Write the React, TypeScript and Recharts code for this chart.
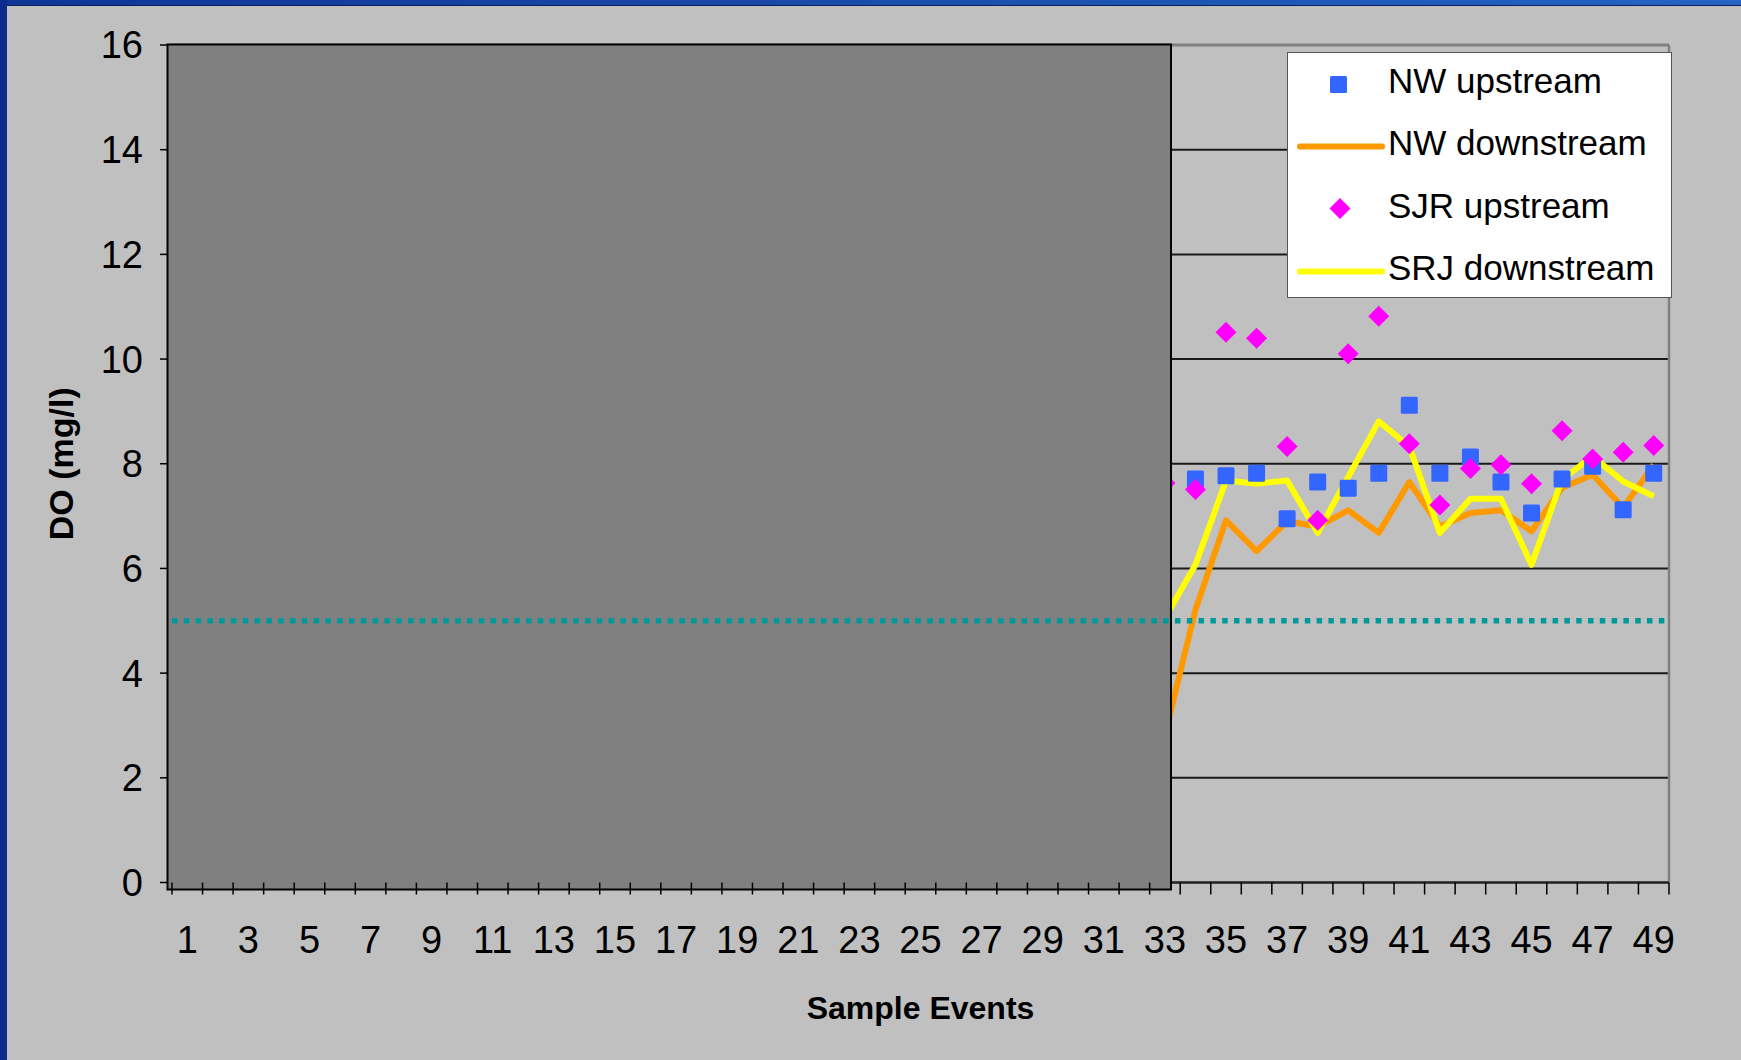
import React from 'react';
import {
  LineChart,
  Line,
  XAxis,
  YAxis,
  CartesianGrid,
  ReferenceArea,
  ReferenceLine,
  Legend,
} from 'recharts';

// sample event numbers along the x axis
const EVENTS = [
  1, 2, 3, 4, 5, 6, 7, 8, 9, 10, 11, 12, 13, 14, 15, 16, 17, 18, 19, 20,
  21, 22, 23, 24, 25, 26, 27, 28, 29, 30, 31, 32, 33, 34, 35, 36, 37, 38, 39, 40,
  41, 42, 43, 44, 45, 46, 47, 48, 49,
];
const DO_TICKS = [0, 2, 4, 6, 8, 10, 12, 14, 16];

// readings for events 33-49 (earlier events sit under the shaded block)
const READ_EVENTS = [33, 34, 35, 36, 37, 38, 39, 40, 41, 42, 43, 44, 45, 46, 47, 48, 49];
const NW_UPSTREAM = [null, 7.71, 7.77, 7.82, 6.95, 7.65, 7.53, 7.82, 9.12, 7.82, 8.13, 7.65, 7.06, 7.71, 7.95, 7.12, 7.82];
const NW_DOWNSTREAM = [2.82, 5.21, 6.92, 6.33, 6.9, 6.8, 7.11, 6.68, 7.65, 6.8, 7.06, 7.11, 6.71, 7.54, 7.79, 7.16, 7.98];
const SJR_UPSTREAM = [7.63, 7.51, 10.51, 10.4, 8.33, 6.92, 10.1, 10.82, 8.38, 7.21, 7.91, 7.98, 7.62, 8.63, 8.09, 8.22, 8.35];
const SRJ_DOWNSTREAM = [5.05, 6.07, 7.68, 7.62, 7.68, 6.68, 7.75, 8.81, 8.33, 6.68, 7.33, 7.33, 6.07, 7.7, 8.14, 7.66, 7.38];

const DO_STANDARD = 5; // mg/l
const SHADED_TO_EVENT = 33.2;

const rows = EVENTS.map((event) => {
  const i = READ_EVENTS.indexOf(event);
  return {
    event,
    nwUp: i < 0 ? null : NW_UPSTREAM[i],
    nwDown: i < 0 ? null : NW_DOWNSTREAM[i],
    sjrUp: i < 0 ? null : SJR_UPSTREAM[i],
    srjDown: i < 0 ? null : SRJ_DOWNSTREAM[i],
  };
});

const WIDTH = 1741;
const HEIGHT = 1060;
const PLOT_LEFT = 172;
const PLOT_TOP = 45;
const PLOT_RIGHT = 1669;
const PLOT_BOTTOM = 882.5;
const BAND = (PLOT_RIGHT - PLOT_LEFT) / EVENTS.length;
const FONT = '"Liberation Sans", Arial, sans-serif';

const BLUE = '#3366ff';
const ORANGE = '#ff9900';
const MAGENTA = '#ff00ff';
const YELLOW = '#ffff00';

const Square = (props: any) => {
  const { cx, cy, index } = props;
  if (cy == null || cx == null) return <g key={`sq-${index}`} />;
  return <rect key={`sq-${index}`} x={cx - 8.5} y={cy - 8.5} width={17} height={17} rx={1.5} fill={BLUE} />;
};

const Diamond = (props: any) => {
  const { cx, cy, index } = props;
  if (cy == null || cx == null) return <g key={`dm-${index}`} />;
  const r = 10.5;
  return (
    <polygon
      key={`dm-${index}`}
      points={`${cx},${cy - r} ${cx + r},${cy} ${cx},${cy + r} ${cx - r},${cy}`}
      fill={MAGENTA}
    />
  );
};

// tick marks sit between events, labels on every other event
const EventTick = (props: any) => {
  const { x, payload } = props;
  const v = payload.value as number;
  const edge = x - BAND / 2;
  return (
    <g>
      <line x1={edge} x2={edge} y1={PLOT_BOTTOM} y2={PLOT_BOTTOM + 12} stroke="#000" strokeWidth={1.5} />
      {v === EVENTS[EVENTS.length - 1] && (
        <line x1={x + BAND / 2} x2={x + BAND / 2} y1={PLOT_BOTTOM} y2={PLOT_BOTTOM + 12} stroke="#000" strokeWidth={1.5} />
      )}
      {v % 2 === 1 && (
        <text x={x} y={PLOT_BOTTOM + 70} textAnchor="middle" fontSize={38} fontFamily={FONT} fill="#000">
          {v}
        </text>
      )}
    </g>
  );
};

const legendItems = [
  { name: 'NW upstream', kind: 'square', color: BLUE },
  { name: 'NW downstream', kind: 'line', color: ORANGE },
  { name: 'SJR upstream', kind: 'diamond', color: MAGENTA },
  { name: 'SRJ downstream', kind: 'line', color: YELLOW },
];

const LegendBox = () => (
  <div
    style={{
      width: 385,
      height: 246,
      boxSizing: 'border-box',
      background: '#fff',
      border: '1.5px solid #555',
      fontFamily: FONT,
      overflow: 'hidden',
    }}
  >
    <div style={{ marginTop: -1.5 }}>
      {legendItems.map((item) => (
        <div key={item.name} style={{ height: 62.3, display: 'flex', alignItems: 'center' }}>
          <svg width={100} height={34} style={{ display: 'block' }}>
            {item.kind === 'line' && (
              <line x1={12} x2={94} y1={18.5} y2={18.5} stroke={item.color} strokeWidth={6} strokeLinecap="round" />
            )}
            {item.kind === 'square' && <rect x={42} y={10} width={17} height={17} rx={1.5} fill={item.color} />}
            {item.kind === 'diamond' && <polygon points="52,8 62.5,18.5 52,29 41.5,18.5" fill={item.color} />}
          </svg>
          <span style={{ fontSize: 35, color: '#000', whiteSpace: 'nowrap', marginTop: -3 }}>{item.name}</span>
        </div>
      ))}
    </div>
  </div>
);

const YTitle = () => {
  const cy = PLOT_TOP + (PLOT_BOTTOM - PLOT_TOP) / 2;
  return (
    <text
      x={73}
      y={cy}
      transform={`rotate(-90, 73, ${cy})`}
      textAnchor="middle"
      fontSize={34}
      fontWeight="bold"
      fontFamily={FONT}
      fill="#000"
    >
      DO (mg/l)
    </text>
  );
};

const XTitle = () => (
  <text
    x={(PLOT_LEFT + PLOT_RIGHT) / 2}
    y={1019}
    textAnchor="middle"
    fontSize={32}
    fontWeight="bold"
    fontFamily={FONT}
    fill="#000"
  >
    Sample Events
  </text>
);

export default function App() {
  return (
    <div
      style={{
        position: 'absolute',
        left: 0,
        top: 0,
        width: WIDTH,
        height: HEIGHT,
        background: '#c0c0c0',
        overflow: 'hidden',
      }}
    >
      <LineChart
        width={WIDTH}
        height={HEIGHT}
        data={rows}
        margin={{ top: PLOT_TOP, right: WIDTH - PLOT_RIGHT, bottom: 0, left: 0 }}
        style={{ fontFamily: FONT }}
      >
        <CartesianGrid vertical={false} stroke="#1a1a1a" strokeWidth={2} fill="#c0c0c0" />
        <XAxis
          dataKey="event"
          type="number"
          domain={[0.5, 49.5]}
          ticks={EVENTS}
          interval={0}
          height={HEIGHT - PLOT_BOTTOM}
          tickLine={false}
          tick={<EventTick />}
          axisLine={{ stroke: '#222', strokeWidth: 2 }}
          label={<XTitle />}
        />
        <YAxis
          type="number"
          domain={[0, 16]}
          ticks={DO_TICKS}
          interval={0}
          width={PLOT_LEFT}
          tickSize={12}
          tickMargin={17}
          tick={{ fill: '#000', fontSize: 38, fontFamily: FONT }}
          tickLine={{ stroke: '#000', strokeWidth: 1.5 }}
          axisLine={{ stroke: '#000', strokeWidth: 1.5 }}
          label={<YTitle />}
        />
        <ReferenceLine y={16} stroke="#808080" strokeWidth={3} />
        <ReferenceLine x={49.5} stroke="#808080" strokeWidth={2.5} />
        <Line
          dataKey="nwDown"
          name="NW downstream"
          stroke={ORANGE}
          strokeWidth={6}
          strokeLinejoin="round"
          dot={false}
          activeDot={false}
          isAnimationActive={false}
        />
        <Line
          dataKey="srjDown"
          name="SRJ downstream"
          stroke={YELLOW}
          strokeWidth={6}
          strokeLinejoin="round"
          dot={false}
          activeDot={false}
          isAnimationActive={false}
        />
        <Line
          dataKey="nwUp"
          name="NW upstream"
          stroke="none"
          dot={Square}
          activeDot={false}
          isAnimationActive={false}
        />
        <Line
          dataKey="sjrUp"
          name="SJR upstream"
          stroke="none"
          dot={Diamond}
          activeDot={false}
          isAnimationActive={false}
        />
        <ReferenceArea
          x1={0.5}
          x2={SHADED_TO_EVENT}
          y1={0}
          y2={16}
          zIndex={1500}
          shape={(p: any) => (
            <rect
              x={p.x - 4.5}
              y={p.y - 0.5}
              width={p.width + 4.5}
              height={p.height + 7.5}
              fill="#808080"
              stroke="#000"
              strokeWidth={2}
            />
          )}
        />
        <ReferenceLine
          y={DO_STANDARD}
          stroke="#009999"
          strokeWidth={5.5}
          strokeDasharray="5.5 6.3"
          zIndex={1600}
        />
        <Legend
          layout="vertical"
          align="center"
          verticalAlign="middle"
          content={() => <LegendBox />}
          wrapperStyle={{ left: 1287, top: 52, width: 385, height: 246 }}
        />
      </LineChart>
      {/* window frame edges */}
      <div
        style={{
          position: 'absolute',
          left: 0,
          top: 0,
          width: WIDTH,
          height: 5,
          background: 'linear-gradient(to right, #0f3595, #2564c2)',
          borderBottom: '1px solid #0a1f5c',
        }}
      />
      <div style={{ position: 'absolute', left: 0, top: 0, width: 7, height: HEIGHT, background: '#0b2c8c' }} />
    </div>
  );
}
